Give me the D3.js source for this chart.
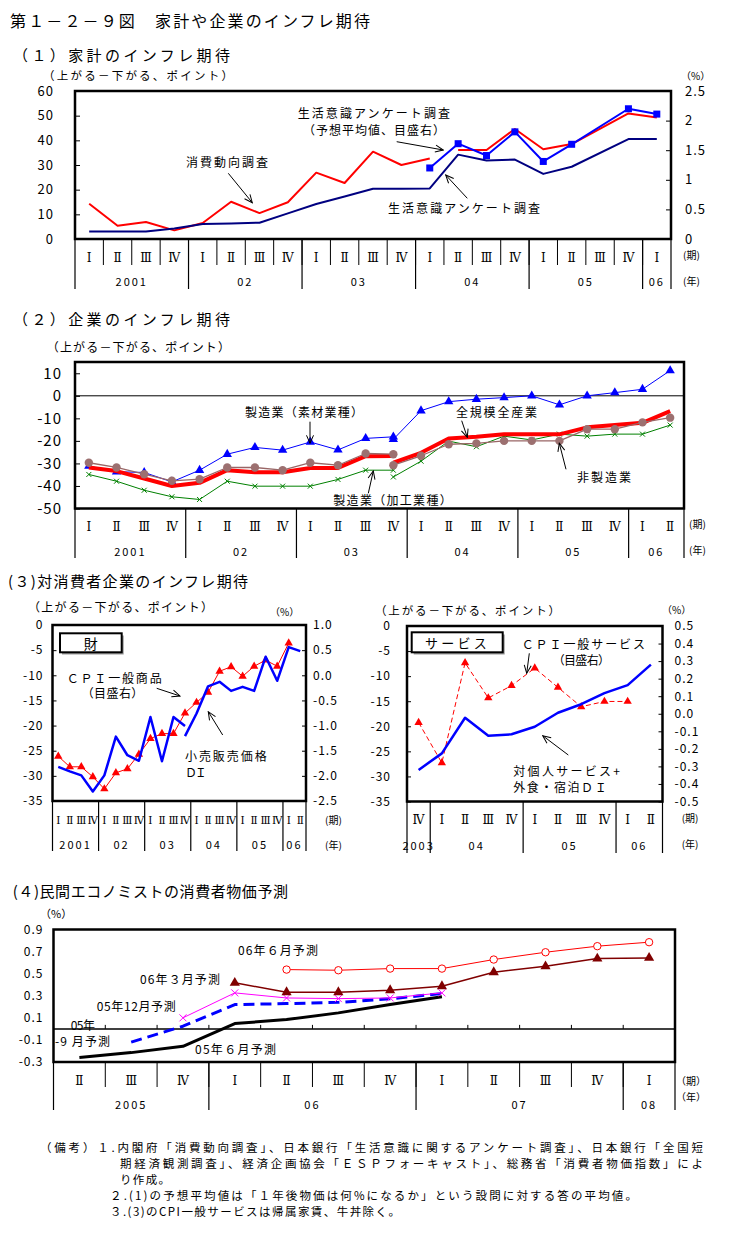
<!DOCTYPE html>
<html><head><meta charset="utf-8">
<script src="https://cdn.jsdelivr.net/npm/d3@7"></script>
<style>
body{margin:0;background:#fff}
svg text{font-family:"Noto Sans CJK JP","Noto Sans",sans-serif;fill:#000}
</style></head><body>
<svg id="c" width="734" height="1235"></svg>
<script>
// ---------------- DATA ----------------
// (1) households
const p1Period = ["Ⅰ","Ⅱ","Ⅲ","Ⅳ","Ⅰ","Ⅱ","Ⅲ","Ⅳ","Ⅰ","Ⅱ","Ⅲ","Ⅳ","Ⅰ","Ⅱ","Ⅲ","Ⅳ","Ⅰ","Ⅱ","Ⅲ","Ⅳ","Ⅰ"];
const p1Year = ["2001","02","03","04","05","06"];
const p1YearLen = [4,4,4,4,4,1];
const p1LeftTicks = [0,10,20,30,40,50,60];
const p1RightTicks = [0,0.5,1,1.5,2,2.5];
const p1ShohiA = [14.3,5.4,6.9,3.5,6.5,15.1,10.5,14.9,26.9,22.7,35.4,30.0,32.6,null,null,null,null,null,null,null,null];
const p1ShohiB = [null,null,null,null,null,null,null,null,null,null,null,null,null,36.1,36.1,44.6,36.4,38.5,null,50.9,49.3];
const p1Seikatsu = [3.0,3.0,3.0,4.3,6.1,6.3,6.6,10.4,14.2,17.2,20.4,20.4,20.5,34.2,31.8,32.2,26.4,29.3,null,40.5,40.5];
const p1Yosou = [null,null,null,null,null,null,null,null,null,null,null,null,1.20,1.61,1.41,1.81,1.31,1.60,null,2.20,2.11];

// (2) firms
const p2Period = ["Ⅰ","Ⅱ","Ⅲ","Ⅳ","Ⅰ","Ⅱ","Ⅲ","Ⅳ","Ⅰ","Ⅱ","Ⅲ","Ⅳ","Ⅰ","Ⅱ","Ⅲ","Ⅳ","Ⅰ","Ⅱ","Ⅲ","Ⅳ","Ⅰ","Ⅱ"];
const p2Year = ["2001","02","03","04","05","06"];
const p2YearLen = [4,4,4,4,4,2];
const p2Ticks = [-50,-40,-30,-20,-10,0,10];
const N = null;
const p2AllOld   = [-31.8,-33.4,-36.7,-40.0,-38.6,-33.0,-33.9,-33.9,-32.0,-32.0,-26.8,-26.7,N,N,N,N,N,N,N,N,N,N];
const p2AllNew   = [N,N,N,N,N,N,N,N,N,N,N,-29.7,-25.3,-18.9,-18.2,-17.1,-17.1,-17.1,-14.0,-13.0,-12.0,-6.8];
const p2SozaiOld = [-31.2,-33.7,-34.0,-38.2,-33.0,-25.9,-22.9,-24.1,-20.5,-24.0,-18.9,-18.2,N,N,N,N,N,N,N,N,N,N];
const p2SozaiNew = [N,N,N,N,N,N,N,N,N,N,N,-19.3,-6.6,-2.6,-1.5,-0.8,0.0,-4.0,0.0,1.4,2.9,11.2];
const p2HiseiOld = [-29.7,-31.8,-34.8,-37.7,-37.0,-31.8,-31.8,-33.0,-29.7,-30.8,-25.6,-25.9,N,N,N,N,N,N,N,N,N,N];
const p2HiseiNew = [N,N,N,N,N,N,N,N,N,N,N,-30.8,-26.6,-21.5,-21.1,-20.0,-20.0,-20.0,-14.8,-14.8,-11.8,-9.7];
const p2KakoOld  = [-34.9,-37.9,-41.9,-44.8,-46.0,-37.9,-40.1,-40.1,-40.1,-37.1,-33.0,-33.0,N,N,N,N,N,N,N,N,N,N];
const p2KakoNew  = [N,N,N,N,N,N,N,N,N,N,N,-36.0,-29.0,-20.1,-22.6,-17.9,-19.6,-17.0,-17.9,-17.0,-17.0,-13.0];

// (3) goods
const p3gPeriod = p2Period;
const p3gYear = ["2001","02","03","04","05","06"];
const p3gYearLen = [4,4,4,4,4,2];
const p3gLeftTicks = [0,-5,-10,-15,-20,-25,-30,-35];
const p3gRightTicks = [1.0,0.5,0.0,-0.5,-1.0,-1.5,-2.0,-2.5];
const p3gDIOld = [-28.2,-29.1,-29.9,-33.1,-29.9,-22.2,-25.9,-27.0,-18.3,-27.1,-18.3,-20.1,N,N,N,N,N,N,N,N,N,N];
const p3gDINew = [N,N,N,N,N,N,N,N,N,N,N,-22.1,-17.6,-12.2,-11.3,-13.1,-12.3,-13.1,-6.3,-11.1,-4.4,-5.2];
const p3gCPI   = [-1.61,-1.82,-1.82,-2.02,-2.26,-1.94,-1.86,-1.57,-1.26,-1.16,-1.16,-0.75,-0.54,-0.34,0.08,0.17,-0.02,0.18,0.30,0.18,0.64,N];
// (3) services
const p3sPeriod = ["Ⅳ","Ⅰ","Ⅱ","Ⅲ","Ⅳ","Ⅰ","Ⅱ","Ⅲ","Ⅳ","Ⅰ","Ⅱ"];
const p3sYear = ["2003","04","05","06"];
const p3sYearLen = [1,4,4,2];
const p3sLeftTicks = [0,-5,-10,-15,-20,-25,-30,-35];
const p3sRightTicks = [0.5,0.4,0.3,0.2,0.1,0.0,-0.1,-0.2,-0.3,-0.4,-0.5];
const p3sDI  = [-28.7,-25.4,-18.3,-21.9,-21.6,-20.1,-17.3,-15.6,-13.4,-11.8,-7.7];
const p3sCPI = [-0.05,-0.28,0.29,0.09,0.16,0.26,0.15,0.04,0.07,0.07,N];

// (4) economists
const p4Period = ["Ⅱ","Ⅲ","Ⅳ","Ⅰ","Ⅱ","Ⅲ","Ⅳ","Ⅰ","Ⅱ","Ⅲ","Ⅳ","Ⅰ"];
const p4Year = ["2005","06","07","08"];
const p4YearLen = [3,4,4,1];
const p4Ticks = [0.9,0.7,0.5,0.3,0.1,-0.1,-0.3];
const p4Jun05 = [-0.26,-0.215,-0.158,0.048,0.084,0.145,0.22,0.29,N,N,N,N];
const p4Sep05 = [N,-0.12,0.024,0.22,0.229,0.24,0.272,0.32,N,N,N,N];
const p4Dec05 = [N,N,0.10,0.326,0.28,0.274,0.28,0.326,N,N,N,N];
const p4Mar06 = [N,N,N,0.417,0.332,0.332,0.35,0.386,0.513,0.567,0.637,0.643];
const p4Jun06 = [N,N,N,N,0.537,0.531,0.546,0.546,0.628,0.694,0.749,0.785];

// ---------------- HELPERS ----------------
const svg = d3.select("#c");
const ROMAN = '"DejaVu Serif","Noto Sans CJK JP",serif';
const defs = svg.append("defs");
defs.append("marker").attr("id","arr").attr("viewBox","-1 -5 10 10")
  .attr("refX",8).attr("refY",0).attr("markerWidth",10).attr("markerHeight",10)
  .attr("markerUnits","userSpaceOnUse").attr("orient","auto")
  .append("path").attr("d","M0,-3.5L8,0L0,3.5").attr("fill","none").attr("stroke","#000").attr("stroke-width",1);

function txt(x0, x1, y, s, size, anchor){
  const t = svg.append("text").attr("x",x0).attr("y",y)
    .attr("dominant-baseline","central").style("font-size",size+"px").text(s);
  if (anchor) t.attr("text-anchor",anchor);
  if (x1 != null) t.attr("textLength", x1-x0).attr("lengthAdjust","spacing");
  return t;
}
function arrow(x1,y1,x2,y2){
  svg.append("line").attr("x1",x1).attr("y1",y1).attr("x2",x2).attr("y2",y2)
    .attr("stroke","#000").attr("stroke-width",1).attr("marker-end","url(#arr)");
}
function box(L,T,R,B,w){
  svg.append("rect").attr("x",L).attr("y",T).attr("width",R-L).attr("height",B-T)
    .attr("fill","none").attr("stroke","#000").attr("stroke-width",w||2.5);
}
function catAxis(x, c){
  const step = x.step();
  const b0 = x(0) - step/2;
  const n = c.period.length;
  const g = svg.append("g");
  if (c.periodDiv){
    for (let k=1;k<n;k++) g.append("line").attr("x1",b0+k*step).attr("x2",b0+k*step)
      .attr("y1",c.B).attr("y2",c.pBot).attr("stroke","#000").attr("stroke-width",1);
  }
  let cum = 0;
  const bounds = [0];
  c.lens.forEach(l=>{cum+=l; bounds.push(cum);});
  bounds.forEach(k=>{
    g.append("line").attr("x1",b0+k*step).attr("x2",b0+k*step)
      .attr("y1",c.B).attr("y2",c.yBot).attr("stroke","#000").attr("stroke-width",1.2);
  });
  c.period.forEach((p,i)=>{
    g.append("text").attr("x",x(i)).attr("y",c.pY).attr("text-anchor","middle")
      .attr("dominant-baseline","central").style("font-family",ROMAN)
      .style("font-size",c.pSize+"px").text(p);
  });
  c.years.forEach((yl,j)=>{
    const xm = b0 + (bounds[j]+bounds[j+1])/2*step;
    g.append("text").attr("x",xm).attr("y",c.yY).attr("text-anchor","middle")
      .attr("dominant-baseline","central").style("font-size",c.ySize+"px")
      .style("letter-spacing","2px").text(yl);
  });
}
function valAxis(gen, trX, size, fmt, pad, tsz){
  const g = svg.append("g").attr("transform",`translate(${trX},0)`);
  g.call(gen.tickSize(tsz).tickPadding(pad).tickFormat(fmt));
  g.select(".domain").remove();
  g.selectAll(".tick line").attr("stroke","#000");
  g.selectAll(".tick text").style("font-size",size+"px").style("font-family",'"Noto Sans CJK JP",sans-serif')
    .attr("fill","#000").style("letter-spacing","1px");
  return g;
}
function pts(vals, x, y){
  const out=[]; vals.forEach((v,i)=>{ if(v!=null) out.push([x(i), y(v)]); }); return out;
}
function line(vals, x, y, color, w, dash){
  const p = svg.append("path").attr("d", d3.line()(pts(vals,x,y)))
    .attr("fill","none").attr("stroke",color).attr("stroke-width",w)
    .attr("stroke-linejoin","round");
  if (dash) p.attr("stroke-dasharray",dash);
}
function markers(vals, x, y, kind, color, sz){
  pts(vals,x,y).forEach(([px,py])=>{
    if (kind==="square") svg.append("rect").attr("x",px-sz/2).attr("y",py-sz/2).attr("width",sz).attr("height",sz).attr("fill",color);
    else if (kind==="tri") svg.append("path").attr("transform",`translate(${px},${py})`)
      .attr("d", d3.symbol(d3.symbolTriangle, sz)()).attr("fill",color);
    else if (kind==="dot") svg.append("circle").attr("cx",px).attr("cy",py).attr("r",sz).attr("fill",color);
    else if (kind==="ring") svg.append("circle").attr("cx",px).attr("cy",py).attr("r",sz).attr("fill","#fff").attr("stroke",color).attr("stroke-width",1);
    else if (kind==="x") svg.append("path").attr("d",`M${px-sz},${py-sz}L${px+sz},${py+sz}M${px-sz},${py+sz}L${px+sz},${py-sz}`)
      .attr("stroke",color).attr("stroke-width",1).attr("fill","none");
  });
}
const fmtInt = d => String(d);
const fmt1 = d => d3.format(".1f")(d).replace("−","-");

// ---------------- TITLES ----------------
txt(10, 370, 20, "第１－２－９図　家計や企業のインフレ期待", 16);

// ---------------- PANEL 1 ----------------
{
  const L=75,R=671,T=91,B=239;
  txt(13, 230, 54, "（１）家計のインフレ期待", 15);
  const x = d3.scalePoint().domain(d3.range(p1Period.length)).range([L,R]).padding(0.5);
  const yL = d3.scaleLinear().domain([0,60]).range([B,T]);
  const yR = d3.scaleLinear().domain([0,2.5]).range([B,T]);
  valAxis(d3.axisLeft(yL).tickValues(p1LeftTicks), L, 13, fmtInt, 21, -5);
  valAxis(d3.axisRight(yR).tickValues(p1RightTicks), R, 13, fmtInt, 14, -5);
  catAxis(x, {B, period:p1Period, years:p1Year, lens:p1YearLen, periodDiv:true, pBot:265, yBot:289, pY:258, yY:281, pSize:12, ySize:11});
  line(p1ShohiA, x, yL, "#ff0000", 2);
  line(p1ShohiB, x, yL, "#ff0000", 2);
  line(p1Seikatsu, x, yL, "#000080", 2);
  line(p1Yosou, x, yR, "#0000ff", 2);
  markers(p1Yosou, x, yR, "square", "#0000ff", 7);
  box(L,T,R,B);
  txt(43, 233, 75, "（上がる－下がる、ポイント）", 11.5);
  txt(681, null, 75.5, "（%）", 10);
  txt(683, null, 254, "(期)", 10);
  txt(683, null, 280, "(年)", 10);
  txt(297.7, 450, 112.7, "生活意識アンケート調査", 12);
  txt(303, 445, 129, "（予想平均値、目盛右）", 12);
  arrow(396.7,141.7,443.3,150);
  txt(186, 268, 161.7, "消費動向調査", 12);
  arrow(228.3,173.3,252.3,202.7);
  txt(388, 540, 207.3, "生活意識アンケート調査", 12);
  arrow(467.3,198.3,445.7,175);
}

// ---------------- PANEL 2 ----------------
{
  const L=75,R=684,T=362,B=508.5;
  txt(13, 230, 318, "（２）企業のインフレ期待", 15);
  const x = d3.scalePoint().domain(d3.range(p2Period.length)).range([L,R]).padding(0.5);
  const y = d3.scaleLinear().domain([-50,15]).range([B,T]);
  valAxis(d3.axisLeft(y).tickValues(p2Ticks), L, 15, fmtInt, 13, -5);
  catAxis(x, {B, period:p2Period, years:p2Year, lens:p2YearLen, periodDiv:false, pBot:B, yBot:558, pY:527, yY:551, pSize:12, ySize:11});
  svg.append("line").attr("x1",L).attr("x2",R).attr("y1",y(0)).attr("y2",y(0)).attr("stroke","#000").attr("stroke-width",1);
  line(p2KakoOld, x, y, "#008000", 1); line(p2KakoNew, x, y, "#008000", 1);
  markers(p2KakoOld, x, y, "x", "#008000", 2.5); markers(p2KakoNew, x, y, "x", "#008000", 2.5);
  line(p2SozaiOld, x, y, "#0000ff", 1); line(p2SozaiNew, x, y, "#0000ff", 1);
  markers(p2SozaiOld, x, y, "tri", "#0000ff", 38); markers(p2SozaiNew, x, y, "tri", "#0000ff", 38);
  line(p2AllOld, x, y, "#ff0000", 4); line(p2AllNew, x, y, "#ff0000", 4);
  line(p2HiseiOld, x, y, "#996666", 1.3); line(p2HiseiNew, x, y, "#996666", 1.3);
  markers(p2HiseiOld, x, y, "dot", "#9c7070", 4.2); markers(p2HiseiNew, x, y, "dot", "#9c7070", 4.2);
  box(L,T,R,B);
  txt(46.7, 230, 346.7, "（上がる－下がる、ポイント）", 12);
  txt(689, null, 523, "(期)", 10);
  txt(689, null, 549, "(年)", 10);
  txt(245, 363, 411.7, "製造業（素材業種）", 12);
  arrow(310,421.7,310,443.3);
  txt(456, 537, 411.7, "全規模全産業", 12);
  arrow(461.7,420.7,467.3,437.3);
  txt(577, 631, 476.7, "非製造業", 12);
  arrow(566,469.3,559.3,443.3);
  txt(333.3, 451.7, 499, "製造業（加工業種）", 12);
  arrow(368.3,493.3,373.3,471);
}

// ---------------- PANEL 3 ----------------
txt(8, 248, 580, "(３)対消費者企業のインフレ期待", 15);
{
  const L=52.5,R=306,T=625,B=801;
  const x = d3.scalePoint().domain(d3.range(p3gPeriod.length)).range([L,R]).padding(0.5);
  const yL = d3.scaleLinear().domain([-35,0]).range([B,T]);
  const yR = d3.scaleLinear().domain([-2.5,1.0]).range([B,T]);
  valAxis(d3.axisLeft(yL).tickValues(p3gLeftTicks), L, 12, fmtInt, 9, -4);
  valAxis(d3.axisRight(yR).tickValues(p3gRightTicks), R, 12, fmt1, 7, -4);
  catAxis(x, {B, period:p3gPeriod, years:p3gYear, lens:p3gYearLen, periodDiv:false, pBot:B, yBot:851, pY:820, yY:844, pSize:10.5, ySize:11});
  line(p3gCPI, x, yR, "#ff0000", 1);
  markers(p3gCPI, x, yR, "tri", "#ff0000", 30);
  line(p3gDIOld, x, yL, "#0000ff", 2.5);
  line(p3gDINew, x, yL, "#0000ff", 2.5);
  box(L,T,R,B);
  svg.append("rect").attr("x",62).attr("y",635.5).attr("width",61.7).attr("height",19).attr("fill","#999");
  svg.append("rect").attr("x",60).attr("y",633.3).attr("width",61.7).attr("height",19).attr("fill","#fff").attr("stroke","#000").attr("stroke-width",2);
  txt(90.8, null, 643, "財", 14, "middle");
  txt(28, 213, 606.5, "（上がる－下がる、ポイント）", 12);
  txt(270, null, 611, "（%）", 10);
  txt(325, null, 819.3, "(期)", 10);
  txt(325, null, 844, "(年)", 10);
  txt(66.7, 161.7, 677.3, "ＣＰＩ一般商品", 12);
  txt(81.7, 143.3, 692.7, "（目盛右）", 12);
  arrow(156.7,688.3,180,696);
  txt(185, 266.7, 755.7, "小売販売価格", 12);
  txt(185, 206.7, 771.7, "ＤＩ", 12);
  arrow(222.7,735,208.3,711.7);
}
{
  const L=407,R=662.5,T=626,B=801.5;
  const x = d3.scalePoint().domain(d3.range(p3sPeriod.length)).range([L,R]).padding(0.5);
  const yL = d3.scaleLinear().domain([-35,0]).range([B,T]);
  const yR = d3.scaleLinear().domain([-0.5,0.5]).range([B,T]);
  valAxis(d3.axisLeft(yL).tickValues(p3sLeftTicks), L, 12, fmtInt, 16, -4);
  valAxis(d3.axisRight(yR).tickValues(p3sRightTicks), R, 12, fmt1, 12, -4);
  catAxis(x, {B, period:p3sPeriod, years:p3sYear, lens:p3sYearLen, periodDiv:false, pBot:B, yBot:853, pY:820, yY:845, pSize:12, ySize:11});
  line(p3sCPI, x, yR, "#ff0000", 1, "5,3");
  markers(p3sCPI, x, yR, "tri", "#ff0000", 30);
  line(p3sDI, x, yL, "#0000ff", 2.5);
  box(L,T,R,B);
  svg.append("rect").attr("x",413.7).attr("y",634.5).attr("width",91).attr("height",20).attr("fill","#999");
  svg.append("rect").attr("x",411.7).attr("y",632.3).attr("width",91).attr("height",20).attr("fill","#fff").attr("stroke","#000").attr("stroke-width",2);
  txt(425, 486.7, 642.3, "サービス", 13);
  txt(375, 560, 609.5, "（上がる－下がる、ポイント）", 11.5);
  txt(662, null, 609, "（%）", 10);
  txt(681.7, null, 817.7, "(期)", 10);
  txt(681.7, null, 843.3, "(年)", 10);
  txt(521.7, 645, 643.3, "ＣＰＩ一般サービス", 12);
  txt(552.7, 610, 659, "（目盛右）", 12);
  arrow(529.3,653.3,526.7,673.3);
  txt(513.3, 620, 770, "対個人サービス+", 12);
  txt(513.3, 606.7, 786, "外食・宿泊ＤＩ", 12);
  arrow(568.3,755,542.7,735.7);
}

// ---------------- PANEL 4 ----------------
{
  const L=53.5,R=675,T=929.5,B=1062;
  txt(12.7, 288, 890, "(４)民間エコノミストの消費者物価予測", 15);
  const x = d3.scalePoint().domain(d3.range(p4Period.length)).range([L,R]).padding(0.5);
  const y = d3.scaleLinear().domain([-0.3,0.9]).range([B,T]);
  valAxis(d3.axisLeft(y).tickValues(p4Ticks), L, 12, fmt1, 10, 0);
  catAxis(x, {B, period:p4Period, years:p4Year, lens:p4YearLen, periodDiv:true, pBot:1087, yBot:1110, pY:1081, yY:1104, pSize:12, ySize:11});
  const step = x.step(), b0 = x(0)-step/2;
  svg.append("line").attr("x1",L).attr("x2",R).attr("y1",y(0)).attr("y2",y(0)).attr("stroke","#000").attr("stroke-width",1.5);
  for (let k=1;k<p4Period.length;k++) svg.append("line").attr("x1",b0+k*step).attr("x2",b0+k*step)
     .attr("y1",y(0)).attr("y2",y(0)-4).attr("stroke","#000").attr("stroke-width",1);
  line(p4Jun05, x, y, "#000000", 3);
  line(p4Sep05, x, y, "#0000ff", 3, "11,6");
  line(p4Dec05, x, y, "#ff00ff", 1);
  markers(p4Dec05, x, y, "x", "#ff00ff", 3.5);
  line(p4Mar06, x, y, "#800000", 1.5);
  markers(p4Mar06, x, y, "tri", "#800000", 45);
  line(p4Jun06, x, y, "#ff0000", 1);
  markers(p4Jun06, x, y, "ring", "#ff0000", 3.7);
  box(L,T,R,B);
  txt(40, null, 913.3, "（%）", 11);
  txt(676, null, 1080, "（期）", 10);
  txt(676, null, 1096, "（年）", 10);
  txt(238, 318, 949, "06年６月予測", 12);
  txt(140, 220, 978.3, "06年３月予測", 12);
  txt(96.7, 175.7, 1005, "05年12月予測", 12);
  txt(70.7, 95, 1024, "05年", 12);
  txt(55, 110, 1040.7, "-9 月予測", 12);
  txt(195, 276, 1048.3, "05年６月予測", 12);
}

// ---------------- NOTES ----------------
txt(40, 703, 1147, "（備考）１.内閣府「消費動向調査」、日本銀行「生活意識に関するアンケート調査」、日本銀行「全国短", 11.5);
txt(120, 703, 1163, "期経済観測調査」、経済企画協会「ＥＳＰフォーキャスト」、総務省「消費者物価指数」によ", 11.5);
txt(120, 170, 1179, "り作成。", 11.5);
txt(110, 637, 1195, "２.(1)の予想平均値は「１年後物価は何%になるか」という設問に対する答の平均値。", 11.5);
txt(110, 400, 1211, "３.(3)のCPI一般サービスは帰属家賃、牛丼除く。", 11.5);
</script></body></html>
